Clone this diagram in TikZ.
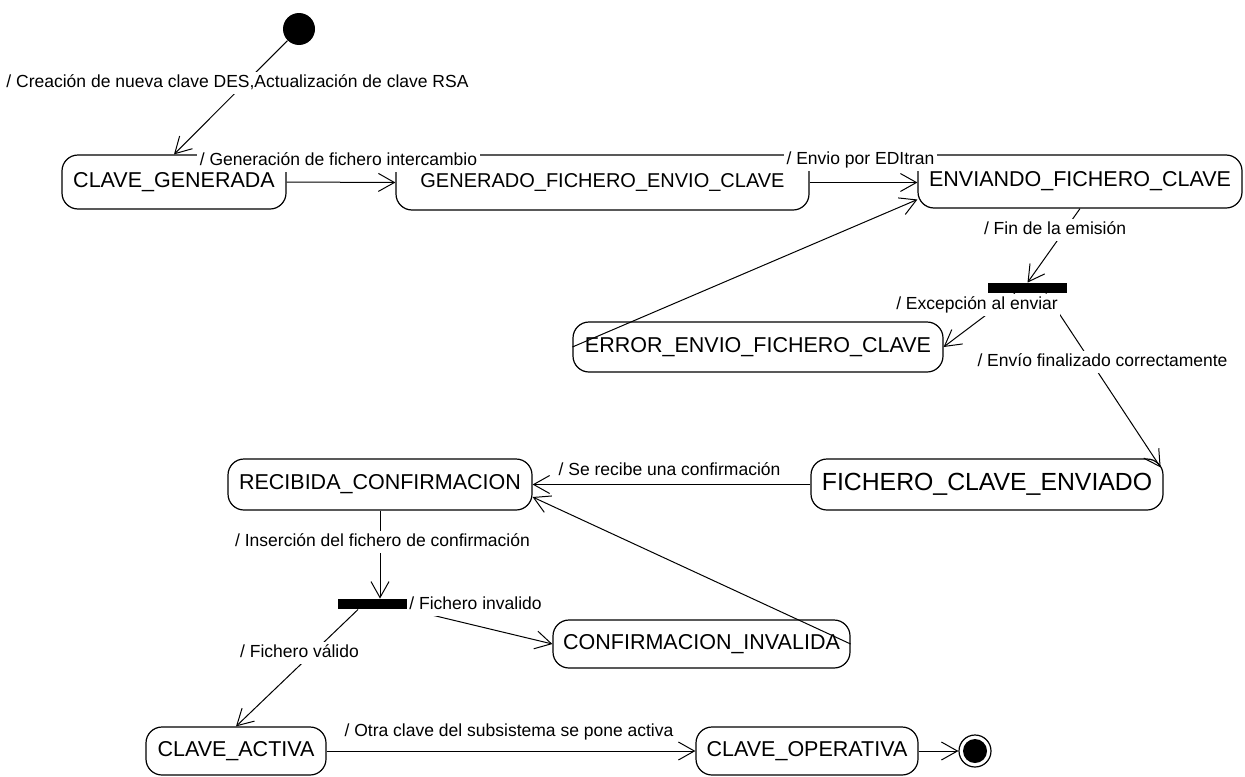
\documentclass[tikz,border=0pt]{standalone}
\usepackage{fontspec}
\setmainfont{Liberation Sans}
\usetikzlibrary{arrows.meta,calc}
\begin{document}
\begin{tikzpicture}[x=0.5pt,y=-0.5pt,
  state/.style={draw, line width=0.6pt, rounded corners=8pt, inner sep=0pt, font=\fontsize{10.75}{12}\selectfont},
  forkbar/.style={fill=black, draw=none, inner sep=0pt, minimum height=5pt},
  lbl/.style={fill=white, inner sep=1.2pt, text height=6.6pt, text depth=1.9pt, font=\fontsize{8.75}{10}\selectfont},
  tr/.style={line width=0.5pt, -{Straight Barb[length=8pt,width=9pt,line width=0.5pt]}},
]
\useasboundingbox (0,0) rectangle (1245,776);
% states
\node[circle, fill=black, minimum size=16pt, inner sep=0pt] (start) at (299,29) {};
\node[state, minimum width=112pt, minimum height=27pt] (cg) at (174,182) {CLAVE\_GENERADA};
\node[state, minimum width=206.5pt, minimum height=27.5pt, font=\fontsize{10}{12}\selectfont] (gen) at (602.5,182.5) {GENERADO\_FICHERO\_ENVIO\_CLAVE};
\node[state, minimum width=162pt, minimum height=26.5pt] (env) at (1080,181.5) {ENVIANDO\_FICHERO\_CLAVE};
\node[forkbar, minimum width=39.5pt] (b1) at (1027.5,288) {};
\node[state, minimum width=185pt, minimum height=25pt] (err) at (758,347) {ERROR\_ENVIO\_FICHERO\_CLAVE};
\node[state, minimum width=176pt, minimum height=25.5pt, font=\fontsize{12.4}{14}\selectfont] (fce) at (987,484.5) {FICHERO\_CLAVE\_ENVIADO};
\node[state, minimum width=152pt, minimum height=25.5pt] (rec) at (380,484.5) {RECIBIDA\_CONFIRMACION};
\node[forkbar, minimum width=35pt] (b2) at (373,604) {};
\node[state, minimum width=148.5pt, minimum height=24pt] (conf) at (701.5,644) {CONFIRMACION\_INVALIDA};
\node[state, minimum width=90pt, minimum height=24pt] (act) at (236,751) {CLAVE\_ACTIVA};
\node[state, minimum width=111pt, minimum height=24pt] (op) at (807,751) {CLAVE\_OPERATIVA};
\node[circle, draw, line width=0.6pt, minimum size=16pt, inner sep=0pt] (fin) at (975,751) {};
\node[circle, fill=black, minimum size=12pt, inner sep=0pt] (finc) at (fin) {};
% transitions
\draw[tr] (start) -- (cg.north);
\draw[tr] (cg.east) -- (gen.west);
\draw[tr] (gen.east) -- (gen.east -| env.west);
\draw[tr] (env.south) -- (b1.north);
\draw[tr] ($(b1.south west)!0.34!(b1.south east)$) -- (err.east);
\draw[tr] ($(b1.south west)!0.73!(b1.south east)$) -- ($(fce.north east)+(-3,9)$);
\draw[tr] (fce.west) -- (rec.east);
\draw[tr] (rec.south) -- (rec.south |- b2.north);
\draw[tr] (b2.south east) -- (conf.west);
\draw[tr] ($(b2.south west)!0.29!(b2.south east)$) -- (act.north);
\draw[tr] (conf.east) -- ($(rec.east)+(0,12.5)$);
\draw[tr] (err.west) -- ($(env.west)+(0,18)$);
\draw[tr] (act.east) -- (op.west);
\draw[tr] (op.east) -- (fin);
% labels
\node[lbl] (l1) at (237.5,83) {/ Creación de nueva clave DES,Actualización de clave RSA};
\node[lbl] (l2) at (338.5,161) {/ Generación de fichero intercambio};
\node[lbl] (l3) at (860.5,160) {/ Envio por EDItran};
\node[lbl] (l4) at (1055,230) {/ Fin de la emisión};
\node[lbl] (l5) at (977,305) {/ Excepción al enviar};
\node[lbl] (l6) at (1102.5,362) {/ Envío finalizado correctamente};
\node[lbl] (l7) at (669.5,471) {/ Se recibe una confirmación};
\node[lbl] (l8) at (382.5,542) {/ Inserción del fichero de confirmación};
\node[lbl] (l9) at (475.5,605) {/ Fichero invalido};
\node[lbl] (l10) at (299.5,653) {/ Fichero válido};
\node[lbl] (l11) at (509,732) {/ Otra clave del subsistema se pone activa};
\end{tikzpicture}
\end{document}
